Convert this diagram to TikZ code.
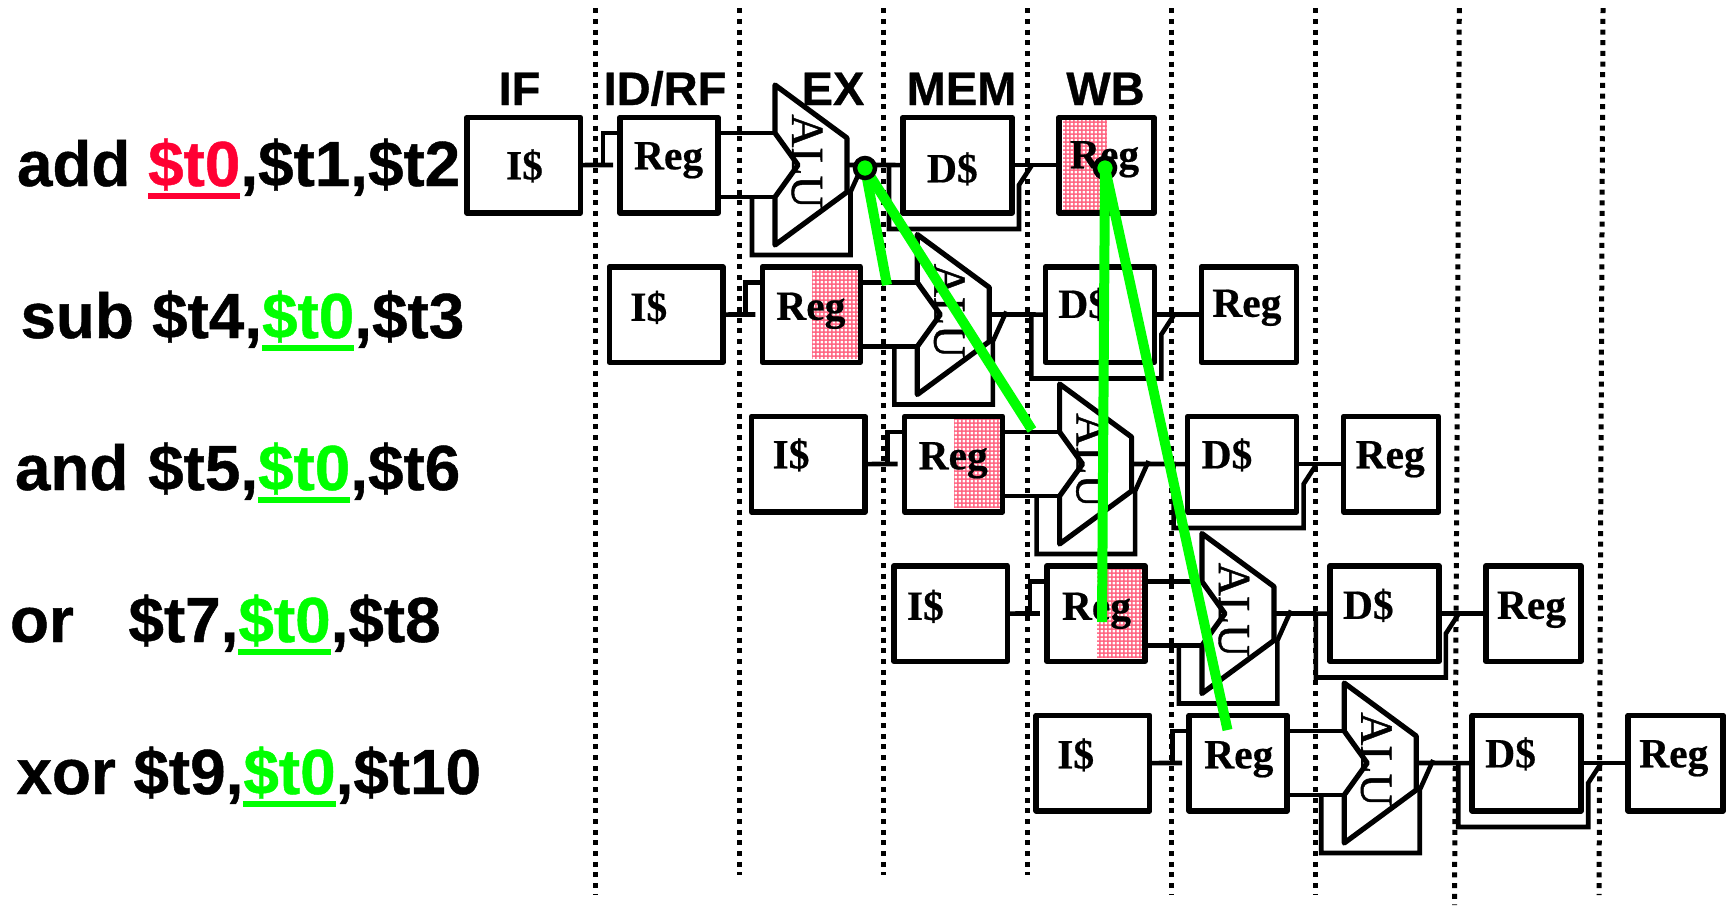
\documentclass[tikz,border=0pt]{standalone}
\usepackage{fontspec}
\usetikzlibrary{patterns,calc}
\setmainfont{Liberation Sans}[BoldFeatures={FakeBold=0.7}]
\newfontfamily\boxfont{Liberation Serif}[BoldFeatures={FakeBold=0.5}]
\newfontfamily\alufont{Liberation Serif}[FakeBold=0.9]
\definecolor{fwdgreen}{RGB}{0,255,0}
\definecolor{destred}{RGB}{255,0,51}
\definecolor{regpink}{RGB}{255,95,125}
\newcommand\regname[1]{\setbox0=\hbox{\$t0}\textcolor{#1}{\rlap{\rule[-13pt]{\wd0}{6pt}}\copy0}}
\pgfdeclarepatternformonly{regholes}{\pgfqpoint{0pt}{0pt}}{\pgfqpoint{4.3pt}{4.3pt}}{\pgfqpoint{4.3pt}{4.3pt}}{%
  \pgfpathrectangle{\pgfqpoint{0.7pt}{0.7pt}}{\pgfqpoint{2.9pt}{2.9pt}}\pgfusepath{fill}}
\tikzset{
  x=1pt,y=-1pt,
  every node/.style={inner sep=0pt,outer sep=0pt},
  stagebox/.style={draw=black,line width=5.5pt,line join=round,anchor=north west,minimum height=95.5pt},
  wire/.style={draw=black,line width=4.6pt,line join=miter},
  alubody/.style={draw=black,fill=white,line width=5.2pt,line join=round},
  stagedots/.style={draw=black,line width=5pt,line cap=butt,dash pattern=on 5pt off 5.67pt},
  fwdline/.style={draw=fwdgreen,line width=10pt,line cap=butt},
  fwddot/.style={circle,draw=black,fill=fwdgreen,line width=4.5pt,minimum size=20pt},
  instr/.style={anchor=base west,font=\fontsize{63.8}{70}\selectfont\bfseries},
  stagehead/.style={anchor=base,font=\fontsize{47}{50}\selectfont\bfseries},
  boxlabel/.style={anchor=base west,font=\boxfont\fontsize{41.5}{45}\selectfont\bfseries},
  alulabel/.style={anchor=base,rotate=-90,font=\alufont\fontsize{46}{48}\selectfont},
  reghatch/.style={fill=regpink,postaction={pattern=regholes,pattern color=white}},
}
\begin{document}
\begin{tikzpicture}
\useasboundingbox (0,0) rectangle (1727,906);
\fill[white] (0,0) rectangle (1727,906);
% stage separators
\foreach \n/\xa/\xb/\ye in {1/595/595/895,2/739/739/875,3/883/883/875,4/1027/1027/875,5/1171/1171/895,6/1315/1315/895,7/1459.3/1454.5/905,8/1603/1599/895}{
  \coordinate (sepT\n) at (\xa,8.2);
  \coordinate (sepB\n) at (\xb,\ye);
  \path[stagedots] (sepT\n) -- (sepB\n);
}
% stage headings
\node[stagehead] (hIF)  at (519.5,105) {IF};
\node[stagehead] (hID)  at (665,105) {ID/RF};
\node[stagehead] (hEX)  at (833,105) {EX};
\node[stagehead] (hMEM) at (961.5,105) {MEM};
\node[stagehead] (hWB)  at (1105.5,105) {WB};
% instructions
\node[instr] (i0) at (17,186) {add \regname{destred},\$t1,\$t2};
\node[instr] (i1) at (20.5,338) {sub\hspace{0.5pt} \$t4,\regname{fwdgreen},\$t3};
\node[instr] (i2) at (15,490) {and\hspace{2pt} \$t5,\regname{fwdgreen},\$t6};
\node[instr] (i3) at (10,642) {or\hspace{37pt} \$t7,\regname{fwdgreen},\$t8};
\node[instr] (i4) at (16.5,794) {xor \$t9,\regname{fwdgreen},\$t10};
% hatched halves of the registers being used
\path[reghatch] (1063,120) rectangle (1107,210);
\path[reghatch] (812,270) rectangle (858,359);
\path[reghatch] (954,419) rectangle (1000,508);
\path[reghatch] (1097,568) rectangle (1143,658);
% pipeline rows
\foreach \rw/\ix/\iy/\rx/\ry/\dx/\dy/\wx/\wy in {
  0/39/62/14/52/24/65/11/51,
  1/21/54/14/53/13/51/11/50,
  2/21/52/14/53/14/52/12/52,
  3/13/54/15/54/13/53/11/53,
  4/21/53/15/53/13/52/11/52}{
\begin{scope}[shift={(\rw*142.3,\rw*149.5)}]
  \node[stagebox,minimum width=113.5pt] (ic\rw)  at (467,117.3) {};
  \node[stagebox,minimum width=98pt]    (rf\rw)  at (620,117.3) {};
  \node[stagebox,minimum width=109pt]   (dc\rw)  at (903,117.3) {};
  \node[stagebox,minimum width=95pt]    (wb\rw)  at (1059,117.3) {};
  \node[boxlabel] (tI\rw) at ($(ic\rw.north west)+(\ix,\iy)$) {I\$};
  \node[boxlabel] (tR\rw) at ($(rf\rw.north west)+(\rx,\ry)$) {Reg};
  \node[boxlabel] (tD\rw) at ($(dc\rw.north west)+(\dx,\dy)$) {D\$};
  \node[boxlabel] (tW\rw) at ($(wb\rw.north west)+(\wx,\wy)$) {Reg};
  \coordinate (ifA\rw) at (613,165);
  \coordinate (ifB\rw) at (603,165);
  \coordinate (ifC\rw) at (603,133);
  \coordinate (rfT\rw) at (718,133);
  \coordinate (rfB\rw) at (718,197);
  \coordinate (aluT\rw) at (775,133);
  \coordinate (aluB\rw) at (775,197);
  \coordinate (aluO\rw) at (847,165);
  % IF to ID
  \path[wire] (ic\rw.east) -- (ifA\rw);
  \path[wire] (ifB\rw) -- (ifC\rw) -- (ifC\rw -| rf\rw.west);
  % ID to EX
  \path[wire] (rf\rw.east |- rfT\rw) -- (aluT\rw);
  \path[wire] (rf\rw.east |- rfB\rw) -- (aluB\rw);
  % EX bypass
  \path[wire] (752,197) -- (752,255) -- (850.5,255) -- (850.5,192) -- (864,162);
  % EX to MEM
  \path[wire] (aluO\rw) -- (dc\rw.west);
  % MEM to WB and its bypass
  \path[wire] (dc\rw.east) -- (wb\rw.west);
  \path[wire] (889,165) -- (889,229) -- (1019,229) -- (1019,185) -- (1032,165);
  % ALU
  \path[alubody] (775,85) -- (847,138) -- (aluO\rw) -- (847,192) -- (775,245) -- (aluB\rw) -- (798,165) -- (aluT\rw) -- cycle;
  \node[alulabel] (tA\rw) at (792,161.5) {ALU};
\end{scope}
}
% forwarding paths
\node[fwddot] (fwdB) at (1105,168) {};
\node[circle,minimum size=20pt] (fwdA) at (865,168) {};
\coordinate (toSub) at (887,285);
\coordinate (toAnd) at (1032,430);
\coordinate (toOr)  at (1102,622);
\coordinate (toXor) at (1227.5,730);
\path[fwdline] (fwdB.center) -- (toOr);
\path[fwdline] (fwdB.center) -- (toXor);
\path[fwdline] (fwdA.center) -- (toSub);
\path[fwdline] (fwdA.center) -- (toAnd);
\node[fwddot] (fwdRing) at (fwdA) {};
\end{tikzpicture}
\end{document}
